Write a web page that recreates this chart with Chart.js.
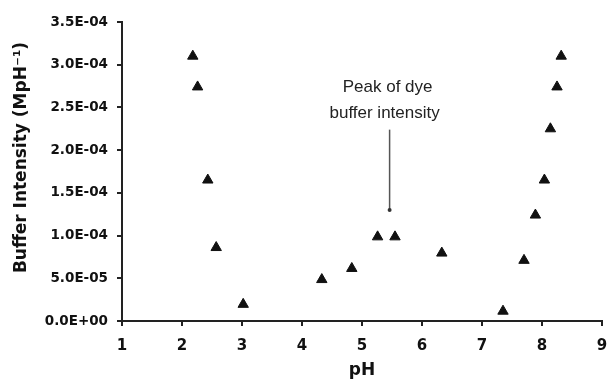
<!DOCTYPE html>
<html lang="en">
<head>
    <meta charset="UTF-8">
    <title>Buffer Intensity vs pH</title>
    <style>
        html, body {
            margin: 0;
            padding: 0;
            overflow: hidden;
            background-color: #fff;
        }

        canvas {
            display: block;
        }
    </style>
</head>
<body>
    <canvas id="bufferChart" width="609" height="388"></canvas>

    <script src="https://cdn.jsdelivr.net/npm/chart.js"></script>
    <script>
        // values
        const phValues = [2.18, 2.26, 2.43, 2.57, 3.02, 4.33, 4.83, 5.26, 5.55, 6.33, 7.35, 7.70, 7.89, 8.04, 8.14, 8.25, 8.32];
        const bufferValues = [3.10e-4, 2.74e-4, 1.65e-4, 8.6e-5, 1.95e-5, 4.85e-5, 6.15e-5, 9.85e-5, 9.85e-5, 7.95e-5, 1.15e-5, 7.1e-5, 1.24e-4, 1.65e-4, 2.25e-4, 2.74e-4, 3.10e-4];

        const xTicks = [1, 2, 3, 4, 5, 6, 7, 8, 9];
        const yTicks = [0, 5e-5, 1e-4, 1.5e-4, 2e-4, 2.5e-4, 3e-4, 3.5e-4];

        const yTitle = 'Buffer Intensity (MpH\u207B\u00B9)';

        // annotation: arrow from (pH, top) down to (pH, bottom)
        const annotationLines = ['Peak of dye', 'buffer intensity'];
        const arrowPH = 5.46;
        const arrowTop = 2.24e-4;
        const arrowBottom = 1.3e-4;

        function formatSci(v) {
            const parts = Number(v).toExponential(1).split('e');
            const exp = parseInt(parts[1], 10);
            const sign = exp < 0 ? '-' : '+';
            const digits = String(Math.abs(exp)).padStart(2, '0');
            return parts[0] + 'E' + sign + digits;
        }

        const annotationPlugin = {
            id: 'peakNote',
            afterDraw(chart) {
                const ctx = chart.ctx;
                const x = chart.scales.x.getPixelForValue(arrowPH);
                const yTop = chart.scales.y.getPixelForValue(arrowTop);
                const yBottom = chart.scales.y.getPixelForValue(arrowBottom);
                ctx.save();
                ctx.strokeStyle = '#555';
                ctx.lineWidth = 1.5;
                ctx.beginPath();
                ctx.moveTo(x, yTop);
                ctx.lineTo(x, yBottom);
                ctx.stroke();
                ctx.fillStyle = '#333';
                ctx.beginPath();
                ctx.arc(x, yBottom, 2, 0, Math.PI * 2);
                ctx.fill();

                ctx.fillStyle = '#222';
                ctx.font = '17px "Liberation Sans", Arial, sans-serif';
                ctx.textAlign = 'center';
                ctx.textBaseline = 'middle';
                ctx.fillText(annotationLines[0], x - 2, yTop - 42);
                ctx.fillText(annotationLines[1], x - 5, yTop - 16);

                // y axis title, sitting a little above the middle of the plot
                const area = chart.chartArea;
                ctx.save();
                ctx.translate(22, (area.top + area.bottom) / 2 - 14);
                ctx.rotate(-Math.PI / 2);
                ctx.fillStyle = '#111';
                ctx.font = 'bold 17px "DejaVu Sans", sans-serif';
                ctx.fillText(yTitle, 0, 0);
                ctx.restore();
                ctx.restore();
            }
        };

        const ctx = document.getElementById('bufferChart').getContext('2d');
        const chart = new Chart(ctx, {
            type: 'scatter',
            data: {
                datasets: [{
                    label: 'Buffer intensity',
                    data: phValues.map((p, i) => ({ x: p, y: bufferValues[i] })),
                    pointStyle: 'triangle',
                    pointRadius: 6,
                    pointHoverRadius: 6,
                    backgroundColor: '#111',
                    borderColor: '#111',
                    borderWidth: 1
                }]
            },
            options: {
                responsive: false,
                animation: false,
                devicePixelRatio: 1,
                layout: {
                    padding: { left: 0, right: 6, top: 22, bottom: 0 }
                },
                plugins: {
                    legend: { display: false },
                    tooltip: { enabled: false }
                },
                scales: {
                    x: {
                        type: 'linear',
                        min: 1,
                        max: 9,
                        afterBuildTicks: (scale) => {
                            scale.ticks = xTicks.map(v => ({ value: v }));
                        },
                        afterFit: (scale) => {
                            scale.height = 67;
                            // tick padding would otherwise be added to the side margins
                            scale.paddingLeft = 0;
                            scale.paddingRight = 0;
                        },
                        border: { color: '#222', width: 2 },
                        grid: {
                            drawOnChartArea: false,
                            drawTicks: true,
                            tickLength: 5,
                            color: '#222',
                            lineWidth: 2
                        },
                        ticks: {
                            color: '#111',
                            padding: 11,
                            maxRotation: 0,
                            font: { family: '"DejaVu Sans"', size: 15, weight: 'bold' }
                        },
                        title: {
                            display: true,
                            text: 'pH',
                            color: '#111',
                            padding: { top: 0, bottom: 7 },
                            font: { family: '"DejaVu Sans"', size: 17, weight: 'bold' }
                        }
                    },
                    y: {
                        type: 'linear',
                        min: 0,
                        max: 3.5e-4,
                        afterBuildTicks: (scale) => {
                            scale.ticks = yTicks.map(v => ({ value: v }));
                        },
                        afterFit: (scale) => {
                            scale.width = 122;
                        },
                        border: { color: '#222', width: 2 },
                        grid: {
                            drawOnChartArea: false,
                            drawTicks: true,
                            tickLength: 5,
                            color: '#222',
                            lineWidth: 2
                        },
                        ticks: {
                            color: '#111',
                            padding: 9,
                            callback: (v) => formatSci(v),
                            font: { family: '"DejaVu Sans"', size: 13.5, weight: 'bold' }
                        },
                        title: { display: false }
                    }
                }
            },
            plugins: [annotationPlugin]
        });
    </script>
</body>
</html>
